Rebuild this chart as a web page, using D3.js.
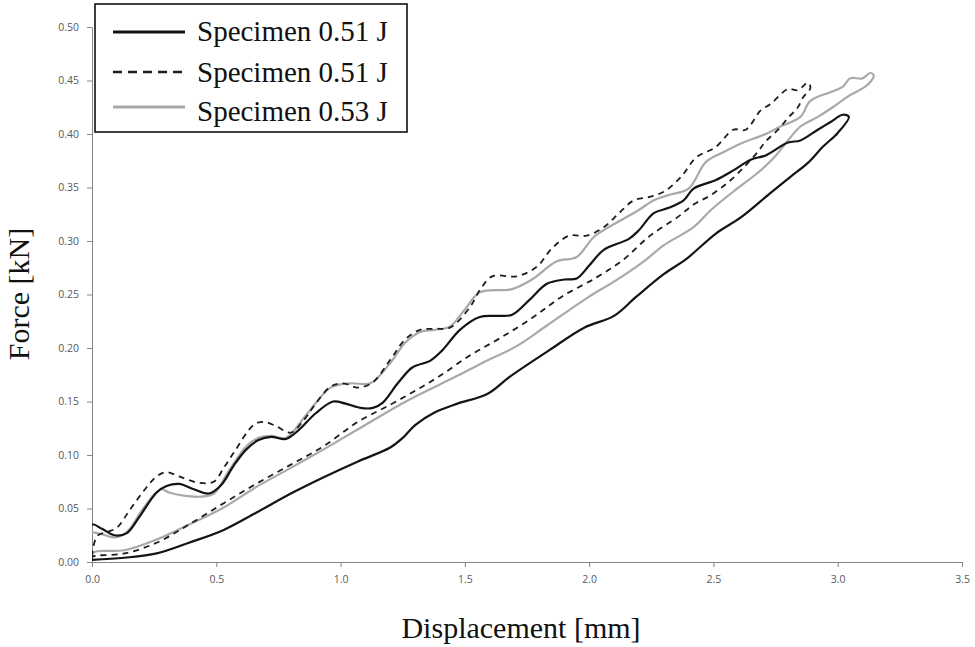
<!DOCTYPE html>
<html lang="en">
<head>
    <meta charset="UTF-8">
    <title>Force vs Displacement</title>
    <script src="https://d3js.org/d3.v7.min.js"></script>
    <style>
        body { margin: 0; background: #fff; }
    </style>
</head>
<body>
    <div id="chart"></div>
    <script>
        // Specimen 0.51 J (solid) - loading then unloading, [displacement mm, force kN]
        const solidLoad = [
            [0, 0.002], [0, 0.035], [0.04, 0.031], [0.09, 0.025], [0.14, 0.027], [0.19, 0.042],
            [0.26, 0.065], [0.30, 0.071], [0.35, 0.073], [0.41, 0.068], [0.47, 0.064], [0.52, 0.072],
            [0.57, 0.090], [0.62, 0.105], [0.67, 0.114], [0.72, 0.117], [0.78, 0.115], [0.83, 0.123],
            [0.90, 0.139], [0.97, 0.150], [1.02, 0.148], [1.08, 0.144], [1.13, 0.144], [1.17, 0.149],
            [1.23, 0.167], [1.29, 0.182], [1.36, 0.188], [1.41, 0.198], [1.48, 0.217], [1.56, 0.229],
            [1.63, 0.230], [1.69, 0.231], [1.76, 0.245], [1.83, 0.260], [1.90, 0.264], [1.95, 0.265],
            [2.00, 0.277], [2.06, 0.292], [2.16, 0.302], [2.20, 0.310], [2.26, 0.326], [2.32, 0.331],
            [2.38, 0.338], [2.42, 0.349], [2.51, 0.357], [2.58, 0.366], [2.65, 0.376], [2.71, 0.380],
            [2.80, 0.392], [2.85, 0.394], [2.92, 0.404], [2.97, 0.411], [3.02, 0.418], [3.045, 0.416]
        ];
        const solidUnload = [
            [3.00, 0.401], [2.94, 0.388], [2.88, 0.373], [2.81, 0.360], [2.73, 0.345], [2.61, 0.322],
            [2.51, 0.307], [2.39, 0.283], [2.30, 0.269], [2.19, 0.248], [2.10, 0.230],
            [1.98, 0.219], [1.84, 0.198], [1.68, 0.173], [1.59, 0.157], [1.47, 0.148], [1.38, 0.140],
            [1.30, 0.128], [1.25, 0.116], [1.20, 0.107], [1.07, 0.094], [0.93, 0.079], [0.80, 0.064],
            [0.66, 0.046], [0.53, 0.030], [0.39, 0.018], [0.26, 0.008], [0.13, 0.004], [0, 0.002]
        ];

        // Specimen 0.51 J (dashed)
        const dashedLoad = [
            [0, 0.005], [0.02, 0.024], [0.06, 0.028], [0.10, 0.032], [0.15, 0.048], [0.21, 0.067],
            [0.26, 0.080], [0.30, 0.084], [0.35, 0.080], [0.43, 0.074], [0.49, 0.075], [0.53, 0.088],
            [0.57, 0.102], [0.65, 0.128], [0.69, 0.131], [0.74, 0.127], [0.80, 0.121], [0.85, 0.132],
            [0.90, 0.148], [0.96, 0.164], [1.01, 0.167], [1.07, 0.163], [1.13, 0.168], [1.20, 0.189],
            [1.26, 0.208], [1.32, 0.217], [1.38, 0.218], [1.44, 0.219], [1.52, 0.238], [1.56, 0.254],
            [1.61, 0.267], [1.71, 0.267], [1.79, 0.276], [1.85, 0.293], [1.92, 0.305], [1.99, 0.305],
            [2.06, 0.313], [2.12, 0.326], [2.18, 0.338], [2.24, 0.341], [2.30, 0.346], [2.37, 0.360],
            [2.43, 0.378], [2.51, 0.388], [2.58, 0.404], [2.63, 0.404], [2.69, 0.422], [2.73, 0.428],
            [2.80, 0.442], [2.84, 0.441], [2.88, 0.448], [2.89, 0.443]
        ];
        const dashedUnload = [
            [2.86, 0.434], [2.84, 0.425], [2.80, 0.415], [2.76, 0.404], [2.71, 0.393], [2.67, 0.381],
            [2.57, 0.357], [2.49, 0.343], [2.42, 0.334], [2.36, 0.323], [2.24, 0.304], [2.14, 0.283],
            [2.03, 0.266], [1.89, 0.248], [1.77, 0.228], [1.64, 0.209], [1.52, 0.193], [1.40, 0.174],
            [1.30, 0.160], [1.20, 0.147], [1.07, 0.131], [0.93, 0.108], [0.80, 0.091], [0.66, 0.073],
            [0.53, 0.055], [0.39, 0.035], [0.26, 0.018], [0.13, 0.008], [0.02, 0.006], [0, 0.005]
        ];

        // Specimen 0.53 J (grey)
        const greyLoad = [
            [0, 0.028], [0.04, 0.026], [0.09, 0.023], [0.14, 0.028], [0.20, 0.048], [0.25, 0.063],
            [0.28, 0.068], [0.31, 0.065], [0.37, 0.062], [0.43, 0.061], [0.49, 0.064], [0.55, 0.085],
            [0.62, 0.108], [0.67, 0.116], [0.72, 0.118], [0.78, 0.116], [0.86, 0.137], [0.96, 0.163],
            [1.04, 0.167], [1.12, 0.167], [1.20, 0.186], [1.26, 0.205], [1.32, 0.215], [1.38, 0.217],
            [1.44, 0.220], [1.50, 0.236], [1.56, 0.252], [1.69, 0.255], [1.77, 0.264], [1.87, 0.281],
            [1.95, 0.285], [2.02, 0.304], [2.11, 0.317], [2.20, 0.329], [2.26, 0.338], [2.32, 0.343],
            [2.40, 0.349], [2.47, 0.374], [2.54, 0.383], [2.62, 0.392], [2.70, 0.399], [2.77, 0.407],
            [2.85, 0.416], [2.89, 0.431], [2.97, 0.439], [3.02, 0.444], [3.05, 0.452], [3.10, 0.452],
            [3.13, 0.457], [3.145, 0.455]
        ];
        const greyUnload = [
            [3.12, 0.446], [3.04, 0.435], [2.98, 0.425], [2.92, 0.416], [2.85, 0.407], [2.80, 0.394],
            [2.74, 0.377], [2.68, 0.364], [2.59, 0.348], [2.49, 0.329], [2.42, 0.313],
            [2.30, 0.296], [2.22, 0.281], [2.10, 0.262], [2.00, 0.248], [1.83, 0.221], [1.71, 0.202],
            [1.57, 0.186], [1.47, 0.174], [1.27, 0.151], [1.07, 0.124], [0.93, 0.105], [0.80, 0.088],
            [0.66, 0.070], [0.53, 0.051], [0.39, 0.035], [0.26, 0.021], [0.13, 0.011], [0.02, 0.010],
            [0, 0.008]
        ];

        const seriesNames = ["Specimen 0.51 J", "Specimen 0.51 J", "Specimen 0.53 J"];
        const xTicks = [0, 0.5, 1.0, 1.5, 2.0, 2.5, 3.0, 3.5];
        const yTicks = [0, 0.05, 0.10, 0.15, 0.20, 0.25, 0.30, 0.35, 0.40, 0.45, 0.50];

        const series = [
            { name: seriesNames[0], data: solidLoad.concat(solidUnload), stroke: "#141414", width: 2.2, dash: null, legendDash: null },
            { name: seriesNames[1], data: dashedLoad.concat(dashedUnload), stroke: "#1e1e1e", width: 1.8, dash: "6,5", legendDash: "9,6" },
            { name: seriesNames[2], data: greyLoad.concat(greyUnload), stroke: "#a9a9a9", width: 2.2, dash: null, legendDash: null }
        ];

        // Dimensions
        const W = 975, H = 647;
        const margin = { top: 27, right: 13, bottom: 85, left: 92 };
        const width = W - margin.left - margin.right;
        const height = H - margin.top - margin.bottom;

        const x = d3.scaleLinear().domain([0, 3.5]).range([0, width]);
        const y = d3.scaleLinear().domain([0, 0.5]).range([height, 0]);

        const svg = d3.select("#chart")
            .append("svg")
            .attr("width", W)
            .attr("height", H);

        svg.append("defs").append("clipPath")
            .attr("id", "plot-clip")
            .append("rect")
            .attr("x", 0)
            .attr("y", -10)
            .attr("width", width)
            .attr("height", height + 10);

        const g = svg.append("g")
            .attr("transform", `translate(${margin.left},${margin.top})`);

        // Y axis
        const yAxis = g.append("g")
            .call(d3.axisLeft(y).tickValues(yTicks).tickFormat(d3.format(".2f"))
                .tickSize(5).tickSizeOuter(0).tickPadding(8));

        // X axis
        const xAxis = g.append("g")
            .attr("transform", `translate(0,${height})`)
            .call(d3.axisBottom(x).tickValues(xTicks).tickFormat(d3.format(".1f"))
                .tickSize(5).tickSizeOuter(0).tickPadding(9));

        [xAxis, yAxis].forEach(ax => {
            ax.select(".domain").attr("stroke", "#868686");
            ax.selectAll(".tick line").attr("stroke", "#868686");
            ax.selectAll(".tick text")
                .attr("fill", "#595959")
                .style("font-family", "'Open Sans', sans-serif")
                .style("font-size", "10.5px");
        });

        // Curves
        const line = d3.line()
            .x(d => x(d[0]))
            .y(d => y(d[1]))
            .curve(d3.curveCatmullRom.alpha(0.5));

        const curves = g.append("g").attr("clip-path", "url(#plot-clip)");

        // draw grey first so black lines sit on top
        [series[2], series[0], series[1]].forEach(s => {
            curves.append("path")
                .datum(s.data)
                .attr("fill", "none")
                .attr("stroke", s.stroke)
                .attr("stroke-width", s.width)
                .attr("stroke-dasharray", s.dash)
                .attr("stroke-linejoin", "round")
                .attr("d", line);
        });

        // Axis titles
        svg.append("text")
            .attr("x", 521)
            .attr("y", 638)
            .attr("text-anchor", "middle")
            .style("font-family", "'Liberation Serif', 'Times New Roman', serif")
            .style("font-size", "30px")
            .attr("fill", "#111")
            .text("Displacement [mm]");

        svg.append("text")
            .attr("transform", "translate(29,294) rotate(-90)")
            .attr("text-anchor", "middle")
            .style("font-family", "'Liberation Serif', 'Times New Roman', serif")
            .style("font-size", "30px")
            .attr("fill", "#111")
            .text("Force [kN]");

        // Legend
        const legend = svg.append("g");
        legend.append("rect")
            .attr("x", 95)
            .attr("y", 4)
            .attr("width", 312)
            .attr("height", 128)
            .attr("fill", "white")
            .attr("stroke", "black")
            .attr("stroke-width", 1.5);

        const rowY = [32, 72, 107];
        const textY = [41, 82, 121];
        series.forEach((s, i) => {
            legend.append("line")
                .attr("x1", 113)
                .attr("x2", 185)
                .attr("y1", rowY[i])
                .attr("y2", rowY[i])
                .attr("stroke", s.stroke)
                .attr("stroke-width", s.width + 0.6)
                .attr("stroke-dasharray", s.legendDash);
            legend.append("text")
                .attr("x", 197)
                .attr("y", textY[i])
                .style("font-family", "'Liberation Serif', 'Times New Roman', serif")
                .style("font-size", "29px")
                .attr("fill", "#111")
                .text(s.name);
        });
    </script>
</body>
</html>
